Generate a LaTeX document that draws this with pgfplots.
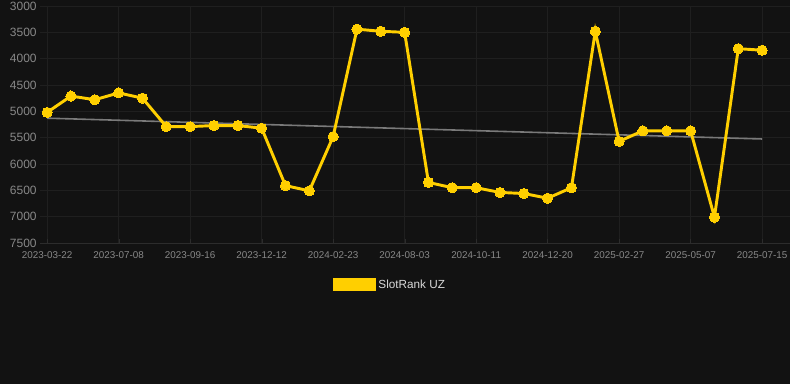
\documentclass[border=0pt]{standalone}
\usepackage{pgfplots}
\pgfplotsset{compat=1.18}
\usepackage{fontspec}
\setmainfont{Liberation Sans}
\definecolor{bg}{HTML}{121212}
\definecolor{gridc}{HTML}{1F1F1F}
\definecolor{basec}{HTML}{2C2C2C}
\definecolor{gold}{RGB}{255,207,0}
\definecolor{tickc}{HTML}{888888}
\definecolor{trend}{HTML}{7A7A7A}
\begin{document}
\begin{tikzpicture}
\useasboundingbox (0pt,0pt) rectangle (592.5pt,288pt);
\fill[bg] (0pt,0pt) rectangle (592.5pt,288pt);
\begin{axis}[
  at={(30pt,105.75pt)}, anchor=south west,
  scale only axis, width=562.5pt, height=177.75pt,
  xmin=-0.3, xmax=31.17, ymin=3000, ymax=7500, y dir=reverse,
  xtick={0,3,...,30},
  xticklabels={2023-03-22,2023-07-08,2023-09-16,2023-12-12,2024-02-23,2024-08-03,2024-10-11,2024-12-20,2025-02-27,2025-05-07,2025-07-15},
  ytick={3000,3500,...,7500},
  grid=major, grid style={gridc, line width=0.6pt},
  axis x line*=bottom, axis y line*=left,
  x axis line style={basec, line width=0.6pt, -},
  y axis line style={draw=none},
  x tick style={basec}, y tick style={draw=none}, major tick length=3pt,
  x tick label style={font=\fontsize{7.4}{8}\selectfont, text=tickc, yshift=-3pt},
  y tick label style={font=\fontsize{9}{10}\selectfont, text=tickc, xshift=1pt},
  /pgf/number format/assume math mode=true,
  /pgf/number format/1000 sep={},
  legend style={at={(axis description cs:0.467,-0.177)}, anchor=center, draw=none, fill=none, text=white!85!black, font=\fontsize{8.8}{9}\selectfont},
  legend cell align=left,
]
\addplot[trend, line width=1.2pt, forget plot] coordinates {(0,5130) (30,5525)};
\addplot[gold, line width=2.2pt, mark=*, mark size=3.8pt, mark options={fill=gold, draw=gold, line width=0pt},
  legend image code/.code={\fill[gold] (0pt,-3.75pt) rectangle (30pt,3.75pt);}]
coordinates {
(0,5020) (1,4710) (2,4780) (3,4650) (4,4750) (5,5290) (6,5290) (7,5270) (8,5270) (9,5320)
(10,6410) (11,6510) (12,5480) (13,3440) (14,3480) (15,3500) (16,6350) (17,6450) (18,6450) (19,6540)
(20,6560) (21,6650) (22,6450) (23,3480) (24,5570) (25,5370) (26,5370) (27,5370) (28,7010) (29,3810) (30,3840)
};
\addlegendentry{SlotRank UZ}
\end{axis}
\end{tikzpicture}
\end{document}
